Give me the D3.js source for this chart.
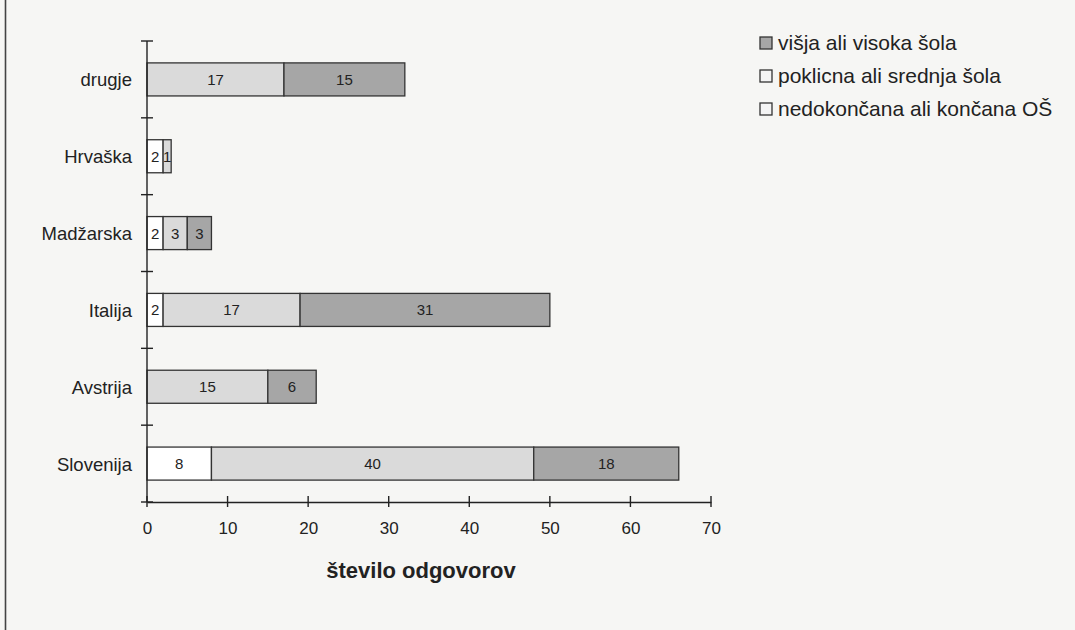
<!DOCTYPE html>
<html><head><meta charset="utf-8">
<script src="https://cdn.jsdelivr.net/npm/d3@7"></script>
<style>body{margin:0;background:#f6f6f4;} svg{display:block;}</style>
</head><body>
<svg id="c" width="1075" height="630"></svg>
<script>
const categories = ["drugje","Hrvaška","Madžarska","Italija","Avstrija","Slovenija"];
const seriesNames = ["nedokončana ali končana OŠ","poklicna ali srednja šola","višja ali visoka šola"];
const osnovna = [0, 2, 2, 2, 0, 8];
const srednja = [17, 1, 3, 17, 15, 40];
const visja   = [15, 0, 3, 31, 6, 18];
const xTicks = [0,10,20,30,40,50,60,70];
const colors = ["#ffffff","#dadada","#a6a6a6"];
const FONT = "Liberation Sans, Arial, sans-serif";

const svg = d3.select("#c");
svg.append("rect").attr("x",0).attr("y",0).attr("width",1075).attr("height",630).attr("fill","#f6f6f4");
svg.append("line").attr("x1",5.5).attr("x2",5.5).attr("y1",0).attr("y2",630).attr("stroke","#444").attr("stroke-width",1.6);

const x = d3.scaleLinear().domain([0,70]).range([147,711]);
const y = d3.scaleBand().domain(categories).range([41,502]).paddingInner(0.57).paddingOuter(0.285);

const data = categories.map((c,i)=>({cat:c, v:[osnovna[i], srednja[i], visja[i]]}));
const g = svg.append("g");
data.forEach(d=>{
  let acc=0;
  d.v.forEach((v,k)=>{
    if(v<=0) return;
    const x0=x(acc), x1=x(acc+v);
    g.append("rect").attr("x",x0).attr("y",y(d.cat)).attr("width",x1-x0).attr("height",y.bandwidth())
      .attr("fill",colors[k]).attr("stroke","#333").attr("stroke-width",1.3);
    g.append("text").attr("x",(x0+x1)/2).attr("y",y(d.cat)+y.bandwidth()/2+5.5)
      .attr("text-anchor","middle").attr("font-family",FONT)
      .attr("font-size",15).attr("fill","#222").text(v);
    acc+=v;
  });
});

// y axis
const step = (502-41)/categories.length;
const yEdges = d3.range(categories.length+1).map(i=>41+i*step);
svg.append("line").attr("x1",147).attr("x2",147).attr("y1",41).attr("y2",502).attr("stroke","#222").attr("stroke-width",1.4);
yEdges.forEach(v=>svg.append("line").attr("x1",141).attr("x2",153).attr("y1",v).attr("y2",v).attr("stroke","#222").attr("stroke-width",1.4));
categories.forEach(c=>svg.append("text").attr("x",132).attr("y",y(c)+y.bandwidth()/2+7)
  .attr("text-anchor","end").attr("font-family",FONT).attr("font-size",18.5).attr("fill","#222").text(c));

// x axis
const xAxis = d3.axisBottom(x).tickValues(xTicks).tickSize(0).tickPadding(20);
const xa = svg.append("g").attr("transform","translate(0,502)").call(xAxis);
xa.select(".domain").attr("stroke","#222").attr("stroke-width",1.4);
xa.selectAll("text").attr("font-family",FONT).attr("font-size",17).attr("fill","#222");
xTicks.forEach(t=>svg.append("line").attr("x1",x(t)).attr("x2",x(t)).attr("y1",496).attr("y2",507).attr("stroke","#222").attr("stroke-width",1.4));
svg.append("text").attr("x",421).attr("y",578).attr("text-anchor","middle").attr("font-family",FONT)
  .attr("font-weight","bold").attr("font-size",22).attr("fill","#222").text("število odgovorov");

// legend
const legend = [[seriesNames[2],colors[2]],[seriesNames[1],colors[1]],[seriesNames[0],colors[0]]];
legend.forEach((l,i)=>{
  const ly = 43 + i*33;
  svg.append("rect").attr("x",760).attr("y",ly-6).attr("width",12).attr("height",12).attr("fill",i===0?"#a6a6a6":"#f4f4f4").attr("stroke","#333").attr("stroke-width",1.3);
  svg.append("text").attr("x",778).attr("y",ly+7).attr("font-family",FONT).attr("font-size",21).attr("fill","#222").text(l[0]);
});
</script>
</body></html>
